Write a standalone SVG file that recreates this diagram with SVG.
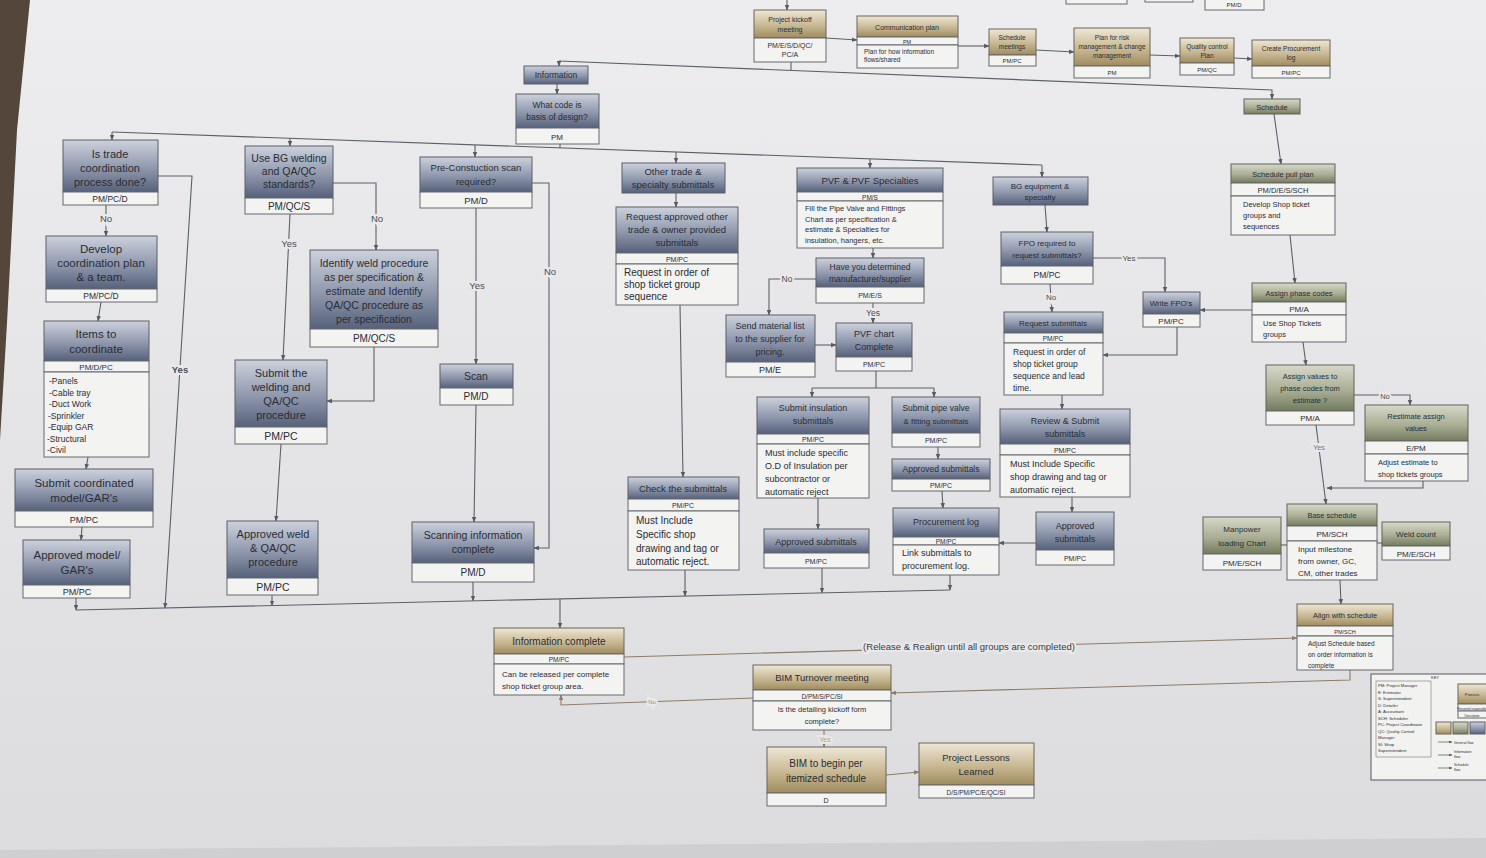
<svg xmlns="http://www.w3.org/2000/svg" width="1486" height="858" viewBox="0 0 1486 858">
<defs>
<linearGradient id="paper" x1="0" y1="0" x2="0" y2="1"><stop offset="0" stop-color="#ededef"/><stop offset="1" stop-color="#dcdcdf"/></linearGradient>
<linearGradient id="gB" x1="0" y1="0" x2="0" y2="1"><stop offset="0" stop-color="#ccd1dc"/><stop offset="0.55" stop-color="#8e97ac"/><stop offset="1" stop-color="#56617a"/></linearGradient>
<linearGradient id="gT" x1="0" y1="0" x2="0" y2="1"><stop offset="0" stop-color="#eee7d6"/><stop offset="0.55" stop-color="#c8b892"/><stop offset="1" stop-color="#9f8b5f"/></linearGradient>
<linearGradient id="gG" x1="0" y1="0" x2="0" y2="1"><stop offset="0" stop-color="#d7d9ca"/><stop offset="0.55" stop-color="#a9ae94"/><stop offset="1" stop-color="#737b5e"/></linearGradient>
<marker id="a" viewBox="0 0 10 10" refX="9" refY="5" markerWidth="5" markerHeight="5" orient="auto-start-reverse"><path d="M0,1 L10,5 L0,9 z" fill="#555a63"/></marker>
<marker id="at" viewBox="0 0 10 10" refX="9" refY="5" markerWidth="5" markerHeight="5" orient="auto-start-reverse"><path d="M0,1 L10,5 L0,9 z" fill="#8b7d66"/></marker>
<style>
.hB{fill:url(#gB);stroke:#5b5f68;stroke-width:1}
.hT{fill:url(#gT);stroke:#6b6558;stroke-width:1}
.hG{fill:url(#gG);stroke:#5f6356;stroke-width:1}
.rw{fill:#f3f3f2;stroke:#66696f;stroke-width:1}
text{font-family:"Liberation Sans",Arial,sans-serif;fill:#2a2d35}
.t{text-anchor:middle}
.s{text-anchor:start}
.c path{fill:none;stroke:#5d6068;stroke-width:1.1}
.c path.m{marker-end:url(#a)}
.c path.tn{stroke:#8b7d66}
.c path.mt{marker-end:url(#at)}
.lbl{font-size:9.5px;fill:#4a4d55;text-anchor:middle;stroke:#e9e9eb;stroke-width:4px;paint-order:stroke}
</style>
</defs>
<rect x="0" y="0" width="1486" height="858" fill="url(#paper)"/>
<polygon points="0,0 30,0 17,130 7,323 0,440" fill="#54463a"/>
<polygon points="0,850 1486,838 1486,858 0,858" fill="#cfcfd2"/>

<g id="connectors" class="c">
<path class="m" d="M787,0 V10"/>
<path class="m" d="M826,38 L857,40"/>
<path class="m" d="M958,46 L989,46"/>
<path class="m" d="M1036,50 L1074,52"/>
<path class="m" d="M1150,55 L1180,56"/>
<path class="m" d="M1234,58 L1252,59"/>
<path d="M791,62 V70"/>
<path class="m" d="M559,61 L1272,90 V99"/>
<path class="m" d="M559,61 V66"/>
<path class="m" d="M557,84 V94"/>
<path d="M560,144 V148"/>
<path d="M112,132 L1042,165"/>
<path class="m" d="M112,132 V140"/>
<path class="m" d="M290,138.3 V146"/>
<path class="m" d="M475,144.9 V157"/>
<path class="m" d="M676,152 V163"/>
<path class="m" d="M870,158.9 V168"/>
<path class="m" d="M1042,165 V177"/>
<path class="m" d="M106,205 V236"/>
<path class="m" d="M101,302 L98,321"/>
<path class="m" d="M88,457 L86,469"/>
<path class="m" d="M82,527 L81,540"/>
<path class="m" d="M76,598 V610"/>
<path class="m" d="M158,176 H192 L165,608"/>
<path class="m" d="M290,214 L283,360"/>
<path class="m" d="M333,183 H376 V250"/>
<path class="m" d="M374,347 V401 H327"/>
<path class="m" d="M281,444 L276,521"/>
<path class="m" d="M272,595 V605.5"/>
<path class="m" d="M476,208 V364"/>
<path class="m" d="M532,183 H549 V548 H534"/>
<path class="m" d="M476,405 L474,522"/>
<path class="m" d="M473,582 V600.8"/>
<path class="m" d="M676,193 V207"/>
<path class="m" d="M680,305 L683,477"/>
<path class="m" d="M685,570 V596"/>
<path class="m" d="M873,248 V258"/>
<path class="m" d="M816,279 H769 V315"/>
<path class="m" d="M873,303 V323"/>
<path class="m" d="M815,345 H836"/>
<path d="M876,371 V388 M812,388 H934"/>
<path class="m" d="M812,388 V397"/>
<path class="m" d="M934,388 V397"/>
<path class="m" d="M818,498 V529"/>
<path class="m" d="M822,568 V592.8"/>
<path class="m" d="M938,447 V459"/>
<path class="m" d="M942,491 L943,508"/>
<path class="m" d="M950,575 V590"/>
<path class="m" d="M1036,543 H999"/>
<path class="m" d="M1045,205 L1047,232"/>
<path class="m" d="M1093,258 H1165 V292"/>
<path class="m" d="M1050,284 L1052,312"/>
<path class="m" d="M1177,327 V355 H1103"/>
<path class="m" d="M1062,395 V409"/>
<path class="m" d="M1072,497 V512"/>
<path class="m" d="M1252,310 H1200"/>
<path class="m" d="M1274,114 L1281,164"/>
<path class="m" d="M1290,235 L1295,283"/>
<path class="m" d="M1303,342 L1306,365"/>
<path class="m" d="M1354,395 H1410 V405"/>
<path class="m" d="M1316,425 L1326,504"/>
<path class="m" d="M1423,481 V488 H1327"/>
<path d="M1281,545 H1287"/>
<path d="M1377,543 H1382"/>
<path class="m" d="M1340,580 L1341,604"/>
<path d="M76,610 L950,590"/>
<path class="m" d="M560,599 V628"/>
<path class="tn mt" d="M624,657 L1297,638"/>
<path class="tn mt" d="M1350,670 V680 L891,693"/>
<path class="tn mt" d="M753,698 L561,705 V695"/>
<path class="tn mt" d="M824,730 V747"/>
<path class="tn mt" d="M886,775 L919,772"/>
<text class="lbl" x="106" y="222">No</text>
<text class="lbl" x="180" y="373" style="font-weight:bold">Yes</text>
<text class="lbl" x="289" y="247">Yes</text>
<text class="lbl" x="377" y="222">No</text>
<text class="lbl" x="477" y="289">Yes</text>
<text class="lbl" x="550" y="275">No</text>
<text class="lbl" x="787" y="282" style="font-size:8.5px">No</text>
<text class="lbl" x="873" y="316" style="font-size:8.5px">Yes</text>
<text class="lbl" x="1129" y="261" style="font-size:8px">Yes</text>
<text class="lbl" x="1051" y="300" style="font-size:8px">No</text>
<text class="lbl" x="1385" y="399" style="font-size:7.5px">No</text>
<text class="lbl" x="1319" y="450" style="font-size:7.5px;fill:#777">Yes</text>
<text class="lbl" x="969" y="650" style="font-size:9.5px;fill:#3a3a3a">(Release &amp; Realign until all groups are completed)</text>
<text class="lbl" x="652" y="704" style="font-size:6px;fill:#9a8e74">No</text>
<text class="lbl" x="825" y="742" style="font-size:7px;fill:#b7a85c">Yes</text>
</g>

<g id="n-top-partial">
<rect class="rw" x="1066" y="-10" width="61" height="14"/>
<rect class="rw" x="1145" y="-10" width="48" height="12"/>
<rect class="rw" x="1205" y="-10" width="59" height="20"/>
<text class="t" x="1234" y="7" font-size="6">PM/D</text>
</g>

<g id="n-kickoff">
<rect class="hT" x="754" y="10" width="72" height="28"/><rect class="rw" x="754" y="38" width="72" height="24"/>
<text class="t" x="790" y="22" font-size="7">Project kickoff</text><text class="t" x="790" y="32" font-size="7">meeting</text>
<text class="t" x="790" y="48" font-size="7">PM/E/S/D/QC/</text><text class="t" x="790" y="57" font-size="7">PC/A</text>
</g>
<g id="n-commplan">
<rect class="hT" x="857" y="16" width="101" height="21"/><rect class="rw" x="857" y="37" width="101" height="8"/><rect class="rw" x="857" y="45" width="101" height="23"/>
<text class="t" x="907" y="30" font-size="7">Communication plan</text>
<text class="t" x="907" y="43.5" font-size="5.5">PM</text>
<text class="s" x="864" y="54" font-size="6.5">Plan for how information</text><text class="s" x="864" y="62" font-size="6.5">flows/shared</text>
</g>
<g id="n-schedmeet">
<rect class="hT" x="989" y="29" width="47" height="26"/><rect class="rw" x="989" y="55" width="47" height="11"/>
<text class="t" x="1012" y="40" font-size="6.5">Schedule</text><text class="t" x="1012" y="49" font-size="6.5">meetings</text>
<text class="t" x="1012" y="63" font-size="6">PM/PC</text>
</g>
<g id="n-risk">
<rect class="hT" x="1074" y="28" width="76" height="38"/><rect class="rw" x="1074" y="66" width="76" height="12"/>
<text class="t" x="1112" y="40" font-size="6.5">Plan for risk</text><text class="t" x="1112" y="49" font-size="6.5">management &amp; change</text><text class="t" x="1112" y="58" font-size="6.5">management</text>
<text class="t" x="1112" y="74.5" font-size="6">PM</text>
</g>
<g id="n-qcplan">
<rect class="hT" x="1180" y="38" width="54" height="25"/><rect class="rw" x="1180" y="63" width="54" height="12"/>
<text class="t" x="1207" y="49" font-size="6.5">Quality control</text><text class="t" x="1207" y="58" font-size="6.5">Plan</text>
<text class="t" x="1207" y="71.5" font-size="6">PM/QC</text>
</g>
<g id="n-proclog-create">
<rect class="hT" x="1252" y="40" width="78" height="26"/><rect class="rw" x="1252" y="66" width="78" height="12"/>
<text class="t" x="1291" y="51" font-size="6.5">Create Procurement</text><text class="t" x="1291" y="60" font-size="6.5">log</text>
<text class="t" x="1291" y="74.5" font-size="6">PM/PC</text>
</g>

<g id="n-information">
<rect class="hB" x="524" y="66" width="64" height="18"/>
<text class="t" x="556" y="78" font-size="8.5">Information</text>
</g>
<g id="n-whatcode">
<rect class="hB" x="516" y="94" width="83" height="34"/><rect class="rw" x="516" y="128" width="83" height="16"/>
<text class="t" x="557" y="108" font-size="8.5">What code is</text><text class="t" x="557" y="120" font-size="8.5">basis of design?</text>
<text class="t" x="557" y="139.5" font-size="8">PM</text>
</g>

<g id="n-istrade">
<rect class="hB" x="63" y="140" width="95" height="52"/><rect class="rw" x="63" y="192" width="95" height="13"/>
<text class="t" x="110" y="158" font-size="11">Is trade</text><text class="t" x="110" y="172" font-size="11">coordination</text><text class="t" x="110" y="186" font-size="11">process done?</text>
<text class="t" x="110" y="202" font-size="8.5">PM/PC/D</text>
</g>
<g id="n-develop">
<rect class="hB" x="46" y="236" width="111" height="53"/><rect class="rw" x="46" y="289" width="111" height="13"/>
<text class="t" x="101" y="253" font-size="11.5">Develop</text><text class="t" x="101" y="267" font-size="11.5">coordination plan</text><text class="t" x="101" y="281" font-size="11.5">&amp; a team.</text>
<text class="t" x="101" y="299" font-size="8.5">PM/PC/D</text>
</g>
<g id="n-items">
<rect class="hB" x="44" y="321" width="105" height="40"/><rect class="rw" x="44" y="361" width="105" height="11"/><rect class="rw" x="44" y="372" width="105" height="85"/>
<text class="t" x="96" y="338" font-size="11.5">Items to</text><text class="t" x="96" y="353" font-size="11.5">coordinate</text>
<text class="t" x="96" y="370" font-size="8">PM/D/PC</text>
<text class="s" x="49" y="384" font-size="8.5">-Panels</text><text class="s" x="49" y="395.5" font-size="8.5">-Cable tray</text><text class="s" x="49" y="407" font-size="8.5">-Duct Work</text><text class="s" x="48" y="418.5" font-size="8.5">-Sprinkler</text><text class="s" x="48" y="430" font-size="8.5">-Equip GAR</text><text class="s" x="47" y="441.5" font-size="8.5">-Structural</text><text class="s" x="47" y="453" font-size="8.5">-Civil</text>
</g>
<g id="n-submitcoord">
<rect class="hB" x="15" y="469" width="138" height="42"/><rect class="rw" x="15" y="511" width="138" height="16"/>
<text class="t" x="84" y="487" font-size="11.5">Submit coordinated</text><text class="t" x="84" y="502" font-size="11.5">model/GAR's</text>
<text class="t" x="84" y="523" font-size="9">PM/PC</text>
</g>
<g id="n-approvedmodel">
<rect class="hB" x="23" y="540" width="107" height="45"/><rect class="rw" x="23" y="585" width="107" height="13"/>
<text class="t" x="77" y="559" font-size="11.5">Approved model/</text><text class="t" x="77" y="574" font-size="11.5">GAR's</text>
<text class="t" x="77" y="595" font-size="9">PM/PC</text>
</g>

<g id="n-usebg">
<rect class="hB" x="245" y="146" width="88" height="52"/><rect class="rw" x="245" y="198" width="88" height="16"/>
<text class="t" x="289" y="162" font-size="10.5">Use BG welding</text><text class="t" x="289" y="175" font-size="10.5">and QA/QC</text><text class="t" x="289" y="188" font-size="10.5">standards?</text>
<text class="t" x="289" y="210" font-size="10">PM/QC/S</text>
</g>
<g id="n-identify">
<rect class="hB" x="310" y="250" width="128" height="79"/><rect class="rw" x="310" y="329" width="128" height="18"/>
<text class="t" x="374" y="267" font-size="10.5">Identify weld procedure</text><text class="t" x="374" y="281" font-size="10.5">as per specification &amp;</text><text class="t" x="374" y="295" font-size="10.5">estimate and Identify</text><text class="t" x="374" y="309" font-size="10.5">QA/QC procedure as</text><text class="t" x="374" y="323" font-size="10.5">per specification</text>
<text class="t" x="374" y="342" font-size="10">PM/QC/S</text>
</g>
<g id="n-submitweld">
<rect class="hB" x="235" y="360" width="92" height="67"/><rect class="rw" x="235" y="427" width="92" height="17"/>
<text class="t" x="281" y="377" font-size="11">Submit the</text><text class="t" x="281" y="391" font-size="11">welding and</text><text class="t" x="281" y="405" font-size="11">QA/QC</text><text class="t" x="281" y="419" font-size="11">procedure</text>
<text class="t" x="281" y="440" font-size="10.5">PM/PC</text>
</g>
<g id="n-approvedweld">
<rect class="hB" x="227" y="521" width="91" height="57"/><rect class="rw" x="227" y="578" width="91" height="17"/>
<text class="t" x="273" y="538" font-size="11">Approved weld</text><text class="t" x="273" y="552" font-size="11">&amp; QA/QC</text><text class="t" x="273" y="566" font-size="11">procedure</text>
<text class="t" x="273" y="591" font-size="10.5">PM/PC</text>
</g>

<g id="n-prescan">
<rect class="hB" x="420" y="157" width="112" height="35"/><rect class="rw" x="420" y="192" width="112" height="16"/>
<text class="t" x="476" y="171" font-size="9.5">Pre-Constuction scan</text><text class="t" x="476" y="185" font-size="9.5">required?</text>
<text class="t" x="476" y="204" font-size="9.5">PM/D</text>
</g>
<g id="n-scan">
<rect class="hB" x="440" y="364" width="73" height="24"/><rect class="rw" x="440" y="388" width="73" height="17"/>
<text class="t" x="476" y="380" font-size="10.5">Scan</text>
<text class="t" x="476" y="400" font-size="10">PM/D</text>
</g>
<g id="n-scancomplete">
<rect class="hB" x="412" y="522" width="122" height="41"/><rect class="rw" x="412" y="563" width="122" height="19"/>
<text class="t" x="473" y="539" font-size="10.5">Scanning information</text><text class="t" x="473" y="553" font-size="10.5">complete</text>
<text class="t" x="473" y="576" font-size="10">PM/D</text>
</g>

<g id="n-othertrade">
<rect class="hB" x="622" y="163" width="103" height="30"/>
<text class="t" x="673" y="175" font-size="9.5">Other trade &amp;</text><text class="t" x="673" y="188" font-size="9.5">specialty submittals</text>
</g>
<g id="n-requestother">
<rect class="hB" x="616" y="207" width="122" height="46"/><rect class="rw" x="616" y="253" width="122" height="11"/><rect class="rw" x="616" y="264" width="122" height="41"/>
<text class="t" x="677" y="220" font-size="9.5">Request approved other</text><text class="t" x="677" y="233" font-size="9.5">trade &amp; owner provided</text><text class="t" x="677" y="246" font-size="9.5">submittals</text>
<text class="t" x="677" y="262" font-size="7">PM/PC</text>
<text class="s" x="624" y="276" font-size="10">Request in order of</text><text class="s" x="624" y="288" font-size="10">shop ticket group</text><text class="s" x="624" y="300" font-size="10">sequence</text>
</g>
<g id="n-check">
<rect class="hB" x="628" y="477" width="111" height="22"/><rect class="rw" x="628" y="499" width="111" height="12"/><rect class="rw" x="628" y="511" width="111" height="59"/>
<text class="t" x="683" y="492" font-size="9.5">Check the submittals</text>
<text class="t" x="683" y="508" font-size="7">PM/PC</text>
<text class="s" x="636" y="524" font-size="10">Must Include</text><text class="s" x="636" y="538" font-size="10">Specific shop</text><text class="s" x="636" y="552" font-size="10">drawing and tag or</text><text class="s" x="636" y="565" font-size="10">automatic reject.</text>
</g>

<g id="n-pvf">
<rect class="hB" x="797" y="168" width="146" height="24"/><rect class="rw" x="797" y="192" width="146" height="9"/><rect class="rw" x="797" y="201" width="146" height="47"/>
<text class="t" x="870" y="184" font-size="9.5">PVF &amp; PVF Specialties</text>
<text class="t" x="870" y="199.5" font-size="6.5">PM/S</text>
<text class="s" x="805" y="211" font-size="7.5">Fill the Pipe Valve and Fittings</text><text class="s" x="805" y="221.5" font-size="7.5">Chart as per specification &amp;</text><text class="s" x="805" y="232" font-size="7.5">estimate &amp; Specialties for</text><text class="s" x="805" y="242.5" font-size="7.5">insulation, hangers, etc.</text>
</g>
<g id="n-determined">
<rect class="hB" x="816" y="258" width="108" height="29"/><rect class="rw" x="816" y="287" width="108" height="16"/>
<text class="t" x="870" y="270" font-size="8.5">Have you determined</text><text class="t" x="870" y="282" font-size="8.5">manufacturer/supplier</text>
<text class="t" x="870" y="298" font-size="7">PM/E/S</text>
</g>
<g id="n-sendlist">
<rect class="hB" x="726" y="315" width="89" height="47"/><rect class="rw" x="726" y="362" width="89" height="15"/>
<text class="t" x="770" y="329" font-size="9">Send material list</text><text class="t" x="770" y="342" font-size="9">to the supplier for</text><text class="t" x="770" y="355" font-size="9">pricing.</text>
<text class="t" x="770" y="373" font-size="9">PM/E</text>
</g>
<g id="n-pvfchart">
<rect class="hB" x="836" y="323" width="76" height="34"/><rect class="rw" x="836" y="357" width="76" height="14"/>
<text class="t" x="874" y="337" font-size="9">PVF chart</text><text class="t" x="874" y="350" font-size="9">Complete</text>
<text class="t" x="874" y="367" font-size="7">PM/PC</text>
</g>
<g id="n-submitinsul">
<rect class="hB" x="757" y="397" width="112" height="37"/><rect class="rw" x="757" y="434" width="112" height="10"/><rect class="rw" x="757" y="444" width="112" height="54"/>
<text class="t" x="813" y="411" font-size="9">Submit insulation</text><text class="t" x="813" y="424" font-size="9">submittals</text>
<text class="t" x="813" y="442" font-size="7">PM/PC</text>
<text class="s" x="765" y="456" font-size="9">Must include specific</text><text class="s" x="765" y="469" font-size="9">O.D of Insulation per</text><text class="s" x="765" y="482" font-size="9">subcontractor or</text><text class="s" x="765" y="495" font-size="9">automatic reject</text>
</g>
<g id="n-approved1">
<rect class="hB" x="764" y="529" width="105" height="24"/><rect class="rw" x="764" y="553" width="105" height="15"/>
<text class="t" x="816" y="545" font-size="9">Approved submittals</text>
<text class="t" x="816" y="564" font-size="7">PM/PC</text>
</g>
<g id="n-submitpipe">
<rect class="hB" x="892" y="397" width="88" height="36"/><rect class="rw" x="892" y="433" width="88" height="14"/>
<text class="t" x="936" y="411" font-size="8.5">Submit pipe valve</text><text class="t" x="936" y="424" font-size="8">&amp; fitting submittals</text>
<text class="t" x="936" y="443" font-size="7">PM/PC</text>
</g>
<g id="n-approved2">
<rect class="hB" x="892" y="459" width="98" height="20"/><rect class="rw" x="892" y="479" width="98" height="12"/>
<text class="t" x="941" y="472" font-size="8.5">Approved submittals</text>
<text class="t" x="941" y="488" font-size="7">PM/PC</text>
</g>
<g id="n-proclog">
<rect class="hB" x="893" y="508" width="106" height="29"/><rect class="rw" x="893" y="537" width="106" height="8"/><rect class="rw" x="893" y="545" width="106" height="30"/>
<text class="t" x="946" y="525" font-size="9">Procurement log</text>
<text class="t" x="946" y="543.5" font-size="6.5">PM/PC</text>
<text class="s" x="902" y="556" font-size="9">Link submittals to</text><text class="s" x="902" y="569" font-size="9">procurement log.</text>
</g>

<g id="n-bgequip">
<rect class="hB" x="993" y="177" width="95" height="28"/>
<text class="t" x="1040" y="189" font-size="8">BG equipment &amp;</text><text class="t" x="1040" y="200" font-size="8">specialty</text>
</g>
<g id="n-fpo">
<rect class="hB" x="1001" y="232" width="92" height="34"/><rect class="rw" x="1001" y="266" width="92" height="18"/>
<text class="t" x="1047" y="246" font-size="8">FPO required to</text><text class="t" x="1047" y="258" font-size="8">request submittals?</text>
<text class="t" x="1047" y="278" font-size="8.5">PM/PC</text>
</g>
<g id="n-writefpo">
<rect class="hB" x="1143" y="292" width="57" height="22"/><rect class="rw" x="1143" y="314" width="57" height="13"/>
<text class="t" x="1171" y="306" font-size="8">Write FPO's</text>
<text class="t" x="1171" y="324" font-size="8">PM/PC</text>
</g>
<g id="n-requestsub">
<rect class="hB" x="1004" y="312" width="99" height="21"/><rect class="rw" x="1004" y="333" width="99" height="10"/><rect class="rw" x="1004" y="343" width="99" height="52"/>
<text class="t" x="1053" y="326" font-size="8">Request submittals</text>
<text class="t" x="1053" y="341" font-size="6.5">PM/PC</text>
<text class="s" x="1013" y="355" font-size="8.5">Request in order of</text><text class="s" x="1013" y="367" font-size="8.5">shop ticket group</text><text class="s" x="1013" y="379" font-size="8.5">sequence and lead</text><text class="s" x="1013" y="391" font-size="8.5">time.</text>
</g>
<g id="n-review">
<rect class="hB" x="1000" y="409" width="130" height="35"/><rect class="rw" x="1000" y="444" width="130" height="11"/><rect class="rw" x="1000" y="455" width="130" height="42"/>
<text class="t" x="1065" y="424" font-size="9">Review &amp; Submit</text><text class="t" x="1065" y="437" font-size="9">submittals</text>
<text class="t" x="1065" y="452.5" font-size="7">PM/PC</text>
<text class="s" x="1010" y="467" font-size="9">Must Include Specific</text><text class="s" x="1010" y="480" font-size="9">shop drawing and tag or</text><text class="s" x="1010" y="493" font-size="9">automatic reject.</text>
</g>
<g id="n-approved3">
<rect class="hB" x="1036" y="512" width="78" height="38"/><rect class="rw" x="1036" y="550" width="78" height="15"/>
<text class="t" x="1075" y="529" font-size="9">Approved</text><text class="t" x="1075" y="542" font-size="9">submittals</text>
<text class="t" x="1075" y="561" font-size="7">PM/PC</text>
</g>

<g id="n-schedule">
<rect class="hG" x="1244" y="99" width="56" height="15"/>
<text class="t" x="1272" y="110" font-size="7.5">Schedule</text>
</g>
<g id="n-pullplan">
<rect class="hG" x="1231" y="164" width="104" height="19"/><rect class="rw" x="1231" y="183" width="104" height="13"/><rect class="rw" x="1231" y="196" width="104" height="39"/>
<text class="t" x="1283" y="177" font-size="7.5">Schedule pull plan</text>
<text class="t" x="1283" y="193" font-size="7.5">PM/D/E/S/SCH</text>
<text class="s" x="1243" y="207" font-size="7.5">Develop Shop ticket</text><text class="s" x="1243" y="218" font-size="7.5">groups and</text><text class="s" x="1243" y="229" font-size="7.5">sequences</text>
</g>
<g id="n-assignphase">
<rect class="hG" x="1252" y="283" width="94" height="19"/><rect class="rw" x="1252" y="302" width="94" height="13"/><rect class="rw" x="1252" y="315" width="94" height="27"/>
<text class="t" x="1299" y="296" font-size="7.5">Assign phase codes</text>
<text class="t" x="1299" y="312" font-size="8">PM/A</text>
<text class="s" x="1263" y="326" font-size="7.5">Use Shop Tickets</text><text class="s" x="1263" y="337" font-size="7.5">groups</text>
</g>
<g id="n-assignvalues">
<rect class="hG" x="1266" y="365" width="88" height="46"/><rect class="rw" x="1266" y="411" width="88" height="14"/>
<text class="t" x="1310" y="379" font-size="7.5">Assign values to</text><text class="t" x="1310" y="391" font-size="7.5">phase codes from</text><text class="t" x="1310" y="403" font-size="7.5">estimate ?</text>
<text class="t" x="1310" y="421" font-size="8">PM/A</text>
</g>
<g id="n-restimate">
<rect class="hG" x="1365" y="405" width="103" height="36"/><rect class="rw" x="1365" y="441" width="103" height="13"/><rect class="rw" x="1365" y="454" width="103" height="27"/>
<text class="t" x="1416" y="419" font-size="7.5">Restimate assign</text><text class="t" x="1416" y="431" font-size="7.5">values</text>
<text class="t" x="1416" y="451" font-size="8">E/PM</text>
<text class="s" x="1378" y="465" font-size="7.5">Adjust estimate to</text><text class="s" x="1378" y="477" font-size="7.5">shop tickets groups</text>
</g>
<g id="n-base">
<rect class="hG" x="1287" y="504" width="90" height="22"/><rect class="rw" x="1287" y="526" width="90" height="15"/><rect class="rw" x="1287" y="541" width="90" height="39"/>
<text class="t" x="1332" y="518" font-size="7.5">Base schedule</text>
<text class="t" x="1332" y="537" font-size="8">PM/SCH</text>
<text class="s" x="1298" y="552" font-size="8">Input milestone</text><text class="s" x="1298" y="564" font-size="8">from owner, GC,</text><text class="s" x="1298" y="576" font-size="8">CM, other trades</text>
</g>
<g id="n-manpower">
<rect class="hG" x="1203" y="517" width="78" height="37"/><rect class="rw" x="1203" y="554" width="78" height="16"/>
<text class="t" x="1242" y="532" font-size="8">Manpower</text><text class="t" x="1242" y="546" font-size="8">loading Chart</text>
<text class="t" x="1242" y="566" font-size="8">PM/E/SCH</text>
</g>
<g id="n-weldcount">
<rect class="hG" x="1382" y="522" width="68" height="24"/><rect class="rw" x="1382" y="546" width="68" height="14"/>
<text class="t" x="1416" y="537" font-size="8">Weld count</text>
<text class="t" x="1416" y="557" font-size="8">PM/E/SCH</text>
</g>
<g id="n-align">
<rect class="hT" x="1297" y="604" width="96" height="22"/><rect class="rw" x="1297" y="626" width="96" height="10"/><rect class="rw" x="1297" y="636" width="96" height="34"/>
<text class="t" x="1345" y="618" font-size="7.5">Align with schedule</text>
<text class="t" x="1345" y="633.5" font-size="5.5">PM/SCH</text>
<text class="s" x="1308" y="646" font-size="6.5">Adjust Schedule based</text><text class="s" x="1308" y="657" font-size="6.5">on order information is</text><text class="s" x="1308" y="668" font-size="6.5">complete</text>
</g>

<g id="n-infocomplete">
<rect class="hT" x="494" y="628" width="130" height="26"/><rect class="rw" x="494" y="654" width="130" height="10"/><rect class="rw" x="494" y="664" width="130" height="31"/>
<text class="t" x="559" y="645" font-size="10">Information complete</text>
<text class="t" x="559" y="662" font-size="6.5">PM/PC</text>
<text class="s" x="502" y="677" font-size="8">Can be released per complete</text><text class="s" x="502" y="689" font-size="8">shop ticket group area.</text>
</g>
<g id="n-bimturnover">
<rect class="hT" x="753" y="665" width="138" height="25"/><rect class="rw" x="753" y="690" width="138" height="11"/><rect class="rw" x="753" y="701" width="138" height="29"/>
<text class="t" x="822" y="681" font-size="9.5">BIM Turnover meeting</text>
<text class="t" x="822" y="698.5" font-size="6.5">D/PM/S/PC/SI</text>
<text class="t" x="822" y="712" font-size="7.5">Is the detailing kickoff form</text><text class="t" x="822" y="724" font-size="7.5">complete?</text>
</g>
<g id="n-bimbegin">
<rect class="hT" x="767" y="747" width="119" height="46"/><rect class="rw" x="767" y="793" width="119" height="13"/>
<text class="t" x="826" y="767" font-size="10">BIM to begin per</text><text class="t" x="826" y="782" font-size="10">itemized schedule</text>
<text class="t" x="826" y="803" font-size="7">D</text>
</g>
<g id="n-lessons">
<rect class="hT" x="919" y="743" width="115" height="42"/><rect class="rw" x="919" y="785" width="115" height="13"/>
<text class="t" x="976" y="761" font-size="9.5">Project Lessons</text><text class="t" x="976" y="775" font-size="9.5">Learned</text>
<text class="t" x="976" y="795" font-size="6.5">D/S/PM/PC/E/QC/SI</text>
</g>

<g id="legend">
<rect x="1371" y="674" width="130" height="106" fill="#f2f2f1" stroke="#55585e" stroke-width="1"/>
<text class="t" x="1435" y="679" font-size="4">KEY</text>
<rect x="1376" y="681" width="55" height="76" fill="none" stroke="#777" stroke-width="0.6"/>
<text class="s" x="1378" y="687" font-size="4.2">PM: Project Manager</text>
<text class="s" x="1378" y="693.5" font-size="4.2">E: Estimator</text>
<text class="s" x="1378" y="700" font-size="4.2">S: Superintendent</text>
<text class="s" x="1378" y="706.5" font-size="4.2">D: Detailer</text>
<text class="s" x="1378" y="713" font-size="4.2">A: Accountant</text>
<text class="s" x="1378" y="719.5" font-size="4.2">SCH: Scheduler</text>
<text class="s" x="1378" y="726" font-size="4.2">PC: Project Coordinator</text>
<text class="s" x="1378" y="732.5" font-size="4.2">QC: Quality Control</text>
<text class="s" x="1378" y="739" font-size="4.2">Manager</text>
<text class="s" x="1378" y="745.5" font-size="4.2">SI: Shop</text>
<text class="s" x="1378" y="752" font-size="4.2">Superintendent</text>
<rect class="hT" x="1458" y="684" width="32" height="20" stroke-width="0.6"/>
<text class="t" x="1472" y="696" font-size="4">Process</text>
<rect class="rw" x="1458" y="704" width="32" height="7" stroke-width="0.6"/>
<text class="t" x="1472" y="709.5" font-size="3">Personnel responsible</text>
<rect class="rw" x="1458" y="711" width="32" height="7" stroke-width="0.6"/>
<text class="t" x="1472" y="716.5" font-size="3">Description</text>
<rect class="hT" x="1436" y="722" width="15" height="12" stroke-width="0.5"/>
<rect class="hG" x="1453" y="722" width="15" height="12" stroke-width="0.5"/>
<rect class="hB" x="1470" y="722" width="15" height="12" stroke-width="0.5"/>
<path d="M1438,742 H1452" stroke="#555" stroke-width="0.7" marker-end="url(#a)"/>
<text class="s" x="1454" y="743.5" font-size="3.5">General flow</text>
<path d="M1438,755 H1452" stroke="#555" stroke-width="0.7" marker-end="url(#a)"/>
<text class="s" x="1454" y="753" font-size="3.5">Information</text>
<text class="s" x="1454" y="757.5" font-size="3.5">flow</text>
<path d="M1438,768 H1452" stroke="#555" stroke-width="0.7" marker-end="url(#a)"/>
<text class="s" x="1454" y="766" font-size="3.5">Schedule</text>
<text class="s" x="1454" y="770.5" font-size="3.5">flow</text>
</g>
</svg>
